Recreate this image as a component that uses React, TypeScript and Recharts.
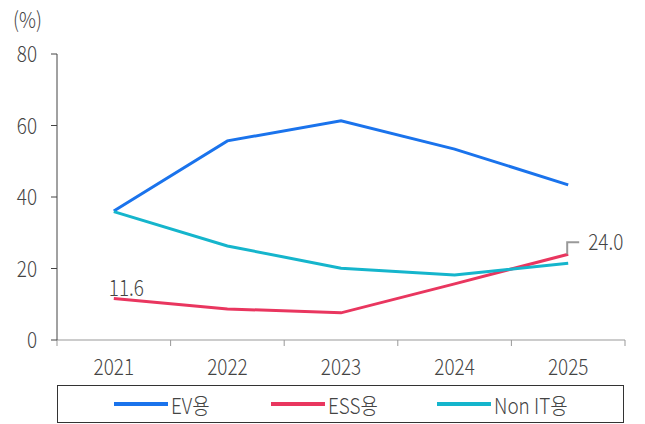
import React from "react";
import { LineChart, Line, XAxis, YAxis, Legend, LabelList } from "recharts";

const categories = ["2021", "2022", "2023", "2024", "2025"];
const evValues = [36.1, 55.7, 61.3, 53.4, 43.4];
const essValues = [11.6, 8.7, 7.6, 15.7, 24.0];
const nonItValues = [35.9, 26.3, 20.1, 18.2, 21.5];
const yTicks = [0, 20, 40, 60, 80];
const seriesNames = ["EV용", "ESS용", "Non IT용"];

const COLORS = ["#1a73ec", "#e9365f", "#15b5cc"];
const FONT = "'Noto Sans CJK KR', 'Noto Sans', sans-serif";
const FW = 300;
const FS = 22;
const SX = 0.86;
const TXT = "#444";
const W = 645;
const H = 424;
const MARGIN = { top: 54, right: 20, left: 0, bottom: 1 };
const YAXIS_W = 57;
const PLOT_W = W - MARGIN.left - MARGIN.right - YAXIS_W;
const HALF_BAND = PLOT_W / categories.length / 2;
const LEGEND_ITEM_LEFT = [57, 214, 380];

const data = categories.map((c, i) => ({
  x: i + 0.5,
  cat: c,
  ev: evValues[i],
  ess: essValues[i],
  nonIt: nonItValues[i],
}));
const xTicks = categories.map((_, i) => i).concat([categories.length]);

const CText = ({ x, y, anchor = "start", children }: any) => (
  <text
    transform={`translate(${x},${y}) scale(${SX},1)`}
    x={0}
    y={0}
    textAnchor={anchor}
    fill={TXT}
    fontSize={FS}
    fontWeight={FW}
    fontFamily={FONT}
  >
    {children}
  </text>
);

const XTick = (props: any) => {
  const { x, y, payload } = props;
  const idx = payload.value;
  if (idx >= categories.length) return null;
  return (
    <CText x={x + HALF_BAND} y={y + 27} anchor="middle">
      {categories[idx]}
    </CText>
  );
};

const YTick = (props: any) => {
  const { x, y, payload } = props;
  return (
    <CText x={x + 1} y={y + 8} anchor="end">
      {payload.value}
    </CText>
  );
};

const EssLabel = (props: any) => {
  const { x, y, value, index } = props;
  if (index === 0) {
    return (
      <CText x={x - 5} y={y - 3}>
        {Number(value).toFixed(1)}
      </CText>
    );
  }
  if (index === categories.length - 1) {
    return (
      <g>
        <polyline
          points={`${x - 1},${y} ${x - 1},${y - 12} ${x + 11},${y - 12}`}
          fill="none"
          stroke="#999"
          strokeWidth={2}
        />
        <CText x={x + 20} y={y - 4}>
          {Number(value).toFixed(1)}
        </CText>
      </g>
    );
  }
  return null;
};

const LegendBox = () => (
  <div
    style={{
      position: "relative",
      boxSizing: "border-box",
      width: 567,
      height: 38,
      border: "1px solid #333",
      fontFamily: FONT,
      fontSize: FS,
      fontWeight: FW,
      color: TXT,
    }}
  >
    {seriesNames.map((n, i) => (
      <div
        key={n}
        style={{
          position: "absolute",
          left: LEGEND_ITEM_LEFT[i] - 1,
          top: 0,
          height: 36,
          display: "flex",
          alignItems: "center",
          whiteSpace: "nowrap",
        }}
      >
        <div style={{ width: 54, height: 4, background: COLORS[i], marginRight: 3 }} />
        <span style={{ display: "inline-block", transform: `scaleX(${SX})`, transformOrigin: "left center" }}>{n}</span>
      </div>
    ))}
  </div>
);

export default function App() {
  return (
    <div style={{ position: "absolute", left: 0, top: 0, width: W, height: H, background: "#fff" }}>
      <LineChart width={W} height={H} data={data} margin={MARGIN}>
        <CText x={13} y={28}>
          (%)
        </CText>
        <XAxis
          dataKey="x"
          type="number"
          domain={[0, categories.length]}
          ticks={xTicks}
          interval={0}
          tick={<XTick />}
          tickSize={6}
          stroke="#999"
          height={45}
        />
        <YAxis
          type="number"
          domain={[0, 80]}
          ticks={yTicks}
          interval={0}
          width={YAXIS_W}
          tickSize={6}
          tickMargin={15}
          stroke="#444"
          tick={<YTick />}
        />
        <Legend
          verticalAlign="bottom"
          content={<LegendBox />}
          wrapperStyle={{ left: 57, width: 567 }}
        />
        <Line dataKey="ev" name={seriesNames[0]} stroke={COLORS[0]} strokeWidth={3} dot={false} isAnimationActive={false} />
        <Line dataKey="ess" name={seriesNames[1]} stroke={COLORS[1]} strokeWidth={3} dot={false} isAnimationActive={false}>
          <LabelList dataKey="ess" content={<EssLabel />} />
        </Line>
        <Line dataKey="nonIt" name={seriesNames[2]} stroke={COLORS[2]} strokeWidth={3} dot={false} isAnimationActive={false} />
      </LineChart>
    </div>
  );
}
